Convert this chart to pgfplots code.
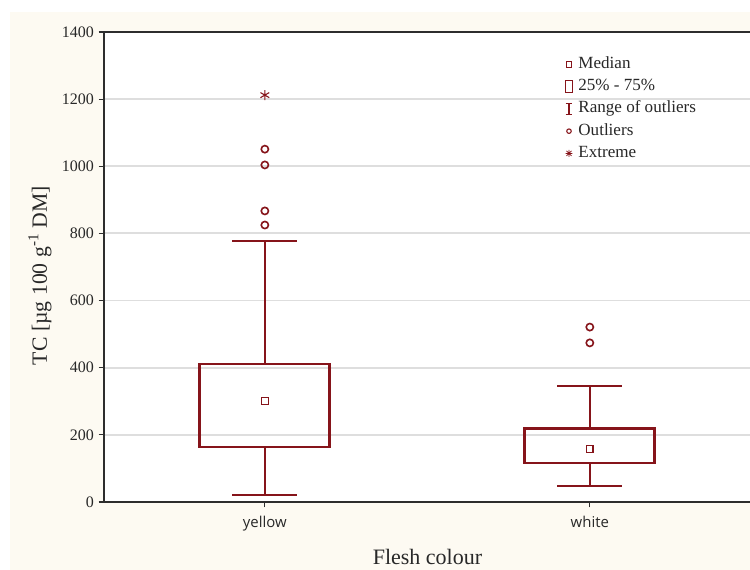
\documentclass[border=0pt]{standalone}
\usepackage{pgfplots}
\pgfplotsset{compat=1.18}
\usepackage{fontspec}
\setmainfont{Liberation Serif}
\newfontfamily\sansf{Open Sans}
\definecolor{dred}{RGB}{134,20,26}
\definecolor{cream}{RGB}{253,250,242}
\definecolor{gridc}{RGB}{222,222,222}
\definecolor{axc}{RGB}{45,45,45}
\definecolor{txt}{RGB}{40,40,40}
\begin{document}
\begin{tikzpicture}
\useasboundingbox (-78pt,-51pt) rectangle (484.5pt,376.5pt);
\fill[white] (-78pt,-51pt) rectangle (484.5pt,376.5pt);
\fill[cream] (-70.5pt,-51pt) rectangle (490pt,367.5pt);
\begin{axis}[
  at={(0,0)}, anchor=south west,
  width=485.25pt, height=352.5pt, scale only axis,
  xmin=-0.495, xmax=1.496, ymin=0, ymax=1400,
  ytick={0,200,...,1400}, xtick={0,1}, xticklabels={yellow,white},
  xtick pos=bottom, ytick pos=both,
  tick align=outside, major tick length=4pt,
  tick style={axc, line width=0.8pt},
  axis line style={axc, line width=1.2pt},
  ymajorgrids, grid style={gridc, line width=1.4pt},
  axis background/.style={fill=white},
  /pgf/number format/assume math mode=true,
  /pgf/number format/1000 sep={},
  yticklabel style={font=\fontsize{12}{14}\selectfont, text=txt},
  xticklabel style={font=\sansf\fontsize{11.2}{13}\selectfont, yshift=-3pt, text=txt},
  xlabel={Flesh colour},
  xlabel style={at={(axis description cs:0.5,-0.117)}, anchor=center, font=\fontsize{16.5}{19}\selectfont, text=txt},
  ylabel={TC [µg 100 g\textsuperscript{-1} DM]},
  ylabel style={at={(axis description cs:-0.099,0.482)}, anchor=center, font=\fontsize{16.3}{19}\selectfont, text=txt},
  legend style={draw=none, fill=none, at={(rel axis cs:0.712,0.953)}, anchor=north west,
    font=\fontsize{12.8}{15}\selectfont, row sep=1.7pt, inner sep=0pt,
    nodes={inner sep=1.5pt, text height=9pt, text depth=3pt, text=txt},
    /tikz/every odd column/.style={column sep=2.5pt}},
  legend cell align=left,
]
\addlegendimage{legend image code/.code={\draw[dred, line width=0.8pt] (-2.1pt,-2.1pt) rectangle (2.1pt,2.1pt);}}
\addlegendimage{legend image code/.code={\draw[dred, line width=0.8pt] (-2.6pt,-4.6pt) rectangle (2.6pt,4.6pt);}}
\addlegendimage{legend image code/.code={\draw[dred, line width=0.9pt] (0,-4.2pt) -- (0,4.2pt) (-2.6pt,4.2pt) -- (2.6pt,4.2pt) (-2.6pt,-4.2pt) -- (2.6pt,-4.2pt);}}
\addlegendimage{legend image code/.code={\draw[dred, line width=0.8pt] (0,0) circle (1.7pt);}}
\addlegendimage{legend image code/.code={\draw[dred, line width=0.6pt] (-2.6pt,0) -- (2.6pt,0) (0,-2.6pt) -- (0,2.6pt) (-1.9pt,-1.9pt) -- (1.9pt,1.9pt) (-1.9pt,1.9pt) -- (1.9pt,-1.9pt);}}
\legend{Median, 25\% - 75\%, Range of outliers, Outliers, Extreme}
% whiskers
\addplot[dred, line width=1.5pt, forget plot] coordinates {(0,411) (0,777)};
\addplot[dred, line width=1.5pt, forget plot] coordinates {(-0.1,777) (0.1,777)};
\addplot[dred, line width=1.5pt, forget plot] coordinates {(0,164) (0,21)};
\addplot[dred, line width=1.5pt, forget plot] coordinates {(-0.1,21) (0.1,21)};
\addplot[dred, line width=1.5pt, forget plot] coordinates {(1,220) (1,346)};
\addplot[dred, line width=1.5pt, forget plot] coordinates {(0.9,346) (1.1,346)};
\addplot[dred, line width=1.5pt, forget plot] coordinates {(1,116) (1,48)};
\addplot[dred, line width=1.5pt, forget plot] coordinates {(0.9,48) (1.1,48)};
% boxes
\addplot[dred, line width=2.1pt, line join=miter, forget plot] coordinates {(-0.2,164) (0.2,164) (0.2,411) (-0.2,411) (-0.2,164)} -- cycle;
\addplot[dred, line width=2.1pt, line join=miter, forget plot] coordinates {(0.8,116) (1.2,116) (1.2,220) (0.8,220) (0.8,116)} -- cycle;
% medians
\addplot[only marks, mark=square, mark size=2.5pt, dred, mark options={line width=1pt}, forget plot] coordinates {(0,301) (1,158)};
% outliers
\addplot[only marks, mark=o, mark size=2.7pt, dred, mark options={line width=1.2pt}, forget plot] coordinates {(0,825) (0,867) (0,1004) (0,1051) (1,474) (1,521)};
% extreme
\addplot[only marks, mark=asterisk, mark size=3.8pt, dred, mark options={line width=0.8pt}, forget plot] coordinates {(0,1212)};
\end{axis}
\end{tikzpicture}
\end{document}
